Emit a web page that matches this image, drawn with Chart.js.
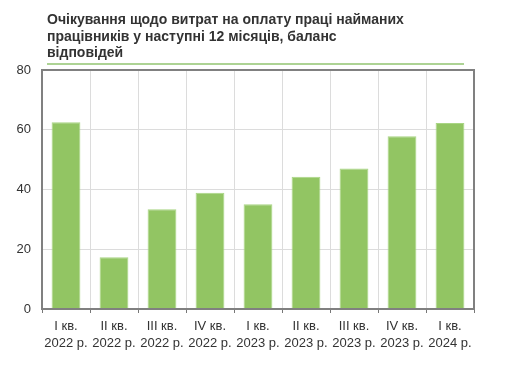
<!DOCTYPE html>
<html>
<head>
  <title>Очікування щодо витрат на оплату праці</title>
  <script src="https://cdn.jsdelivr.net/npm/chart.js"></script>
  <style>
    body { margin: 0; background: #fff; font-family: "Liberation Sans", Arial, sans-serif; }
    #wrap { position: relative; width: 530px; height: 370px; }
    #title {
      position: absolute; left: 47px; top: 11px;
      font-size: 14px; font-weight: bold; line-height: 16.5px; color: #333;
    }
    #rule { position: absolute; left: 47px; top: 63px; width: 417px; height: 2px; background: #add394; }
  </style>
</head>
<body>
  <div id="wrap">
    <canvas id="wageChart" width="530" height="370"></canvas>
    <div id="title">Очікування щодо витрат на оплату праці найманих<br>працівників у наступні 12 місяців, баланс<br>відповідей</div>
    <div id="rule"></div>
  </div>

  <script>
    const quarters = ['I кв.', 'II кв.', 'III кв.', 'IV кв.', 'I кв.', 'II кв.', 'III кв.', 'IV кв.', 'I кв.'];
    const years = ['2022 р.', '2022 р.', '2022 р.', '2022 р.', '2023 р.', '2023 р.', '2023 р.', '2023 р.', '2024 р.'];
    const balance = [62.5, 17.3, 33.4, 38.9, 35.1, 44.3, 47.0, 57.8, 62.3];
    const yTicks = [0, 20, 40, 60, 80];

    const labels = quarters.map((q, i) => [q, years[i]]);

    // box around plot area (top and right edges as in the original)
    const frame = {
      id: 'frame',
      afterDraw(chart) {
        const a = chart.chartArea;
        const ctx = chart.ctx;
        ctx.save();
        ctx.strokeStyle = '#808080';
        ctx.lineWidth = 2;
        ctx.strokeRect(a.left, a.top, a.right - a.left, a.bottom - a.top);
        ctx.restore();
      }
    };

    new Chart(document.getElementById('wageChart'), {
      type: 'bar',
      data: {
        labels: labels,
        datasets: [{
          data: balance,
          backgroundColor: '#92c563',
          borderColor: '#a9d584',
          borderWidth: 1,
          barPercentage: 0.6,
          categoryPercentage: 1
        }]
      },
      options: {
        responsive: false,
        animation: false,
        layout: { padding: { top: 70, right: 56, left: 0, bottom: 0 } },
        plugins: {
          legend: { display: false },
          tooltip: { enabled: false }
        },
        scales: {
          x: {
            grid: { color: '#dcdcdc', offset: true, tickLength: 4, tickColor: '#777' },
            border: { color: '#808080', width: 2 },
            ticks: {
              color: '#333',
              padding: 5,
              maxRotation: 0,
              autoSkip: false,
              font: { family: '"Liberation Sans", Arial, sans-serif', size: 13, lineHeight: 1.3 }
            },
            afterFit(scale) { scale.height = 61; }
          },
          y: {
            min: 0,
            max: 80,
            afterBuildTicks(scale) { scale.ticks = yTicks.map(v => ({ value: v })); },
            grid: { color: '#dcdcdc', tickLength: 0 },
            border: { color: '#808080', width: 2 },
            ticks: {
              color: '#333',
              padding: 11,
              font: { family: '"Liberation Sans", Arial, sans-serif', size: 13 }
            },
            afterFit(scale) { scale.width = 42; }
          }
        }
      },
      plugins: [frame]
    });
  </script>
</body>
</html>
